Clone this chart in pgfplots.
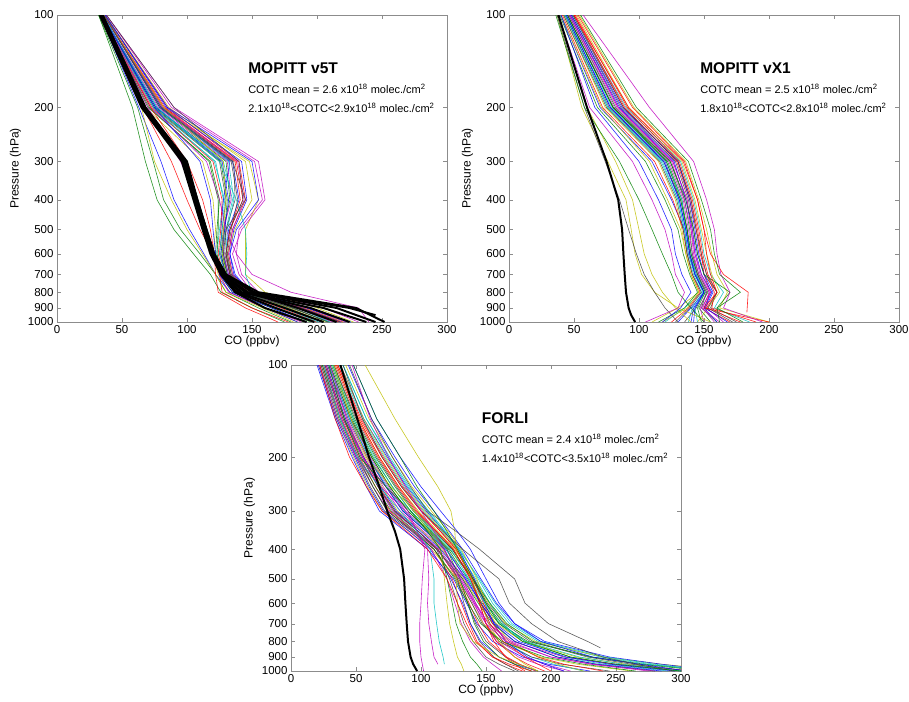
\documentclass[border=0pt]{standalone}
\usepackage{fontspec}
\setmainfont{Liberation Sans}
\usepackage{pgfplots}
\pgfplotsset{compat=1.18}
\definecolor{cB}{rgb}{0,0,1}
\definecolor{cG}{rgb}{0,0.5,0}
\definecolor{cR}{rgb}{1,0,0}
\definecolor{cC}{rgb}{0,0.75,0.75}
\definecolor{cM}{rgb}{0.75,0,0.75}
\definecolor{cY}{rgb}{0.75,0.75,0}
\definecolor{cK}{rgb}{0.25,0.25,0.25}
\tikzset{thinln/.style={line width=0.6pt, opacity=0.85}, blkln/.style={black, line width=2pt},
  ttlstyle/.style={anchor=west, inner sep=0pt, font=\bfseries\fontsize{15.5}{16}\selectfont},
  annstyle/.style={anchor=west, inner sep=0pt, font=\fontsize{11}{12}\selectfont}}
\pgfplotsset{
  coaxis/.style={
    scale only axis, width=390pt, height=307pt,
    xmin=0, xmax=300, y dir=reverse, ymin=100, ymax=1000,
    xtick={0,50,100,150,200,250,300}, xticklabels={0,50,100,150,200,250,300},
    ytick={100,200,300,400,500,600,700,800,900,1000},
    yticklabels={100,200,300,400,500,600,700,800,900,1000},
    tick label style={font=\fontsize{11.5}{12}\selectfont},
    xlabel style={font=\fontsize{12}{13}\selectfont, yshift=5pt},
    ylabel style={font=\fontsize{12}{13}\selectfont},
    xlabel={CO (ppbv)}, ylabel={Pressure (hPa)},
    axis line style={black!45}, tick style={black!45}, major tick length=4pt,
    cycle list={{cB,thinln},{cG,thinln},{cR,thinln},{cC,thinln},{cM,thinln},{cY,thinln},{cK,thinln}},
  },
}
\begin{document}
\begin{tikzpicture}
\useasboundingbox (0,0) rectangle (909pt,-701pt);
% ---------------- Panel 1: MOPITT v5T
\begin{semilogyaxis}[coaxis, at={(57pt,-322pt)}, anchor=south west]
\addplot coordinates {(36,100)(80,200)(135,300)(140,400)(132,500)(130,600)(133,700)(145,800)(185,900)(215,1000)};
\addplot coordinates {(35,100)(76,200)(130,300)(133,400)(128,500)(126,600)(130,700)(140,800)(178,900)(205,1000)};
\addplot coordinates {(37,100)(85,200)(140,300)(145,400)(135,500)(132,600)(135,700)(150,800)(195,900)(225,1000)};
\addplot coordinates {(34,100)(72,200)(122,300)(128,400)(125,500)(123,600)(127,700)(138,800)(170,900)(198,1000)};
\addplot coordinates {(38,100)(88,200)(152,300)(158,400)(140,500)(138,600)(142,700)(155,800)(205,900)(232,1000)};
\addplot coordinates {(36,100)(82,200)(148,300)(155,400)(145,500)(145,600)(145,700)(160,800)(200,900)(228,1000)};
\addplot coordinates {(35,100)(74,200)(125,300)(130,400)(127,500)(125,600)(130,700)(142,800)(180,900)(210,1000)};
\addplot coordinates {(37,100)(79,200)(133,300)(128,400)(126,500)(128,600)(132,700)(145,800)(188,900)(218,1000)};
\addplot coordinates {(34,100)(70,200)(118,300)(125,400)(123,500)(122,600)(125,700)(135,800)(165,900)(190,1000)};
\addplot coordinates {(36,100)(83,200)(138,300)(143,400)(133,500)(130,600)(134,700)(147,800)(190,900)(220,1000)};
\addplot coordinates {(35,100)(77,200)(128,300)(135,400)(130,500)(127,600)(131,700)(141,800)(176,900)(203,1000)};
\addplot coordinates {(38,100)(90,200)(155,300)(160,400)(142,500)(135,600)(140,700)(150,800)(192,900)(222,1000)};
\addplot coordinates {(33,100)(68,200)(112,300)(120,400)(122,500)(120,600)(124,700)(133,800)(160,900)(185,1000)};
\addplot coordinates {(36,100)(81,200)(136,300)(137,400)(130,500)(129,600)(133,700)(146,800)(186,900)(214,1000)};
\addplot coordinates {(37,100)(84,200)(142,300)(146,400)(136,500)(133,600)(136,700)(148,800)(192,900)(224,1000)};
\addplot coordinates {(35,100)(75,200)(126,300)(131,400)(129,500)(127,600)(131,700)(143,800)(182,900)(208,1000)};
\addplot coordinates {(34,100)(73,200)(120,300)(127,400)(126,500)(124,600)(128,700)(139,800)(172,900)(200,1000)};
\addplot coordinates {(36,100)(80,200)(132,300)(136,400)(131,500)(130,600)(134,700)(150,800)(195,900)(226,1000)};
\addplot coordinates {(35,100)(78,200)(131,300)(134,400)(128,500)(128,600)(132,700)(144,800)(184,900)(212,1000)};
\addplot coordinates {(37,100)(86,200)(145,300)(150,400)(137,500)(131,600)(135,700)(148,800)(190,900)(220,1000)};
\addplot coordinates {(36,100)(79,200)(134,300)(139,400)(134,500)(131,600)(134,700)(146,800)(186,900)(216,1000)};
\addplot coordinates {(35,100)(76,200)(127,300)(132,400)(129,500)(126,600)(130,700)(141,800)(177,900)(204,1000)};
\addplot coordinates {(33,100)(71,200)(117,300)(124,400)(124,500)(123,600)(127,700)(137,800)(168,900)(195,1000)};
\addplot coordinates {(36,100)(82,200)(137,300)(141,400)(133,500)(130,600)(133,700)(145,800)(187,900)(217,1000)};
\addplot coordinates {(34,100)(74,200)(121,300)(129,400)(127,500)(125,600)(129,700)(140,800)(174,900)(201,1000)};
\addplot coordinates {(36,100)(81,200)(139,300)(144,400)(135,500)(132,600)(135,700)(147,800)(189,900)(219,1000)};
\addplot coordinates {(36,100)(82,200)(128,300)(130,400)(128,500)(127,600)(130,700)(140,800)(178,900)(206,1000)};
\addplot coordinates {(36,100)(80,200)(135,300)(145,400)(130,500)(128,600)(131,700)(143,800)(181,900)(209,1000)};
\addplot coordinates {(37,100)(85,200)(150,300)(155,400)(138,500)(133,600)(137,700)(149,800)(193,900)(226,1000)};
\addplot[cM,thinln] coordinates {(35,100)(72,200)(115,300)(125,400)(130,500)(138,600)(150,700)(180,800)(232,900)(240,1000)};
\addplot[cG,thinln] coordinates {(32,100)(58,200)(68,300)(77,400)(90,500)(105,600)(118,700)(126,800)(150,900)(175,1000)};
\addplot[cG,thinln] coordinates {(32,100)(62,200)(74,300)(82,400)(95,500)(110,600)(122,700)(130,800)(155,900)(180,1000)};
\addplot[cB,thinln] coordinates {(33,100)(63,200)(80,300)(90,400)(102,500)(113,600)(122,700)(133,800)(160,900)(185,1000)};
\addplot[cY,thinln] coordinates {(33,100)(65,200)(75,300)(88,400)(100,500)(112,600)(122,700)(130,800)(158,900)(182,1000)};
\addplot[cR,thinln] coordinates {(34,100)(66,200)(88,300)(100,400)(110,500)(120,600)(125,700)(127,800)(150,900)(178,1000)};
\addplot[cM,thinln] coordinates {(34,100)(70,200)(95,300)(108,400)(115,500)(120,600)(125,700)(132,800)(160,900)(188,1000)};
\addplot[cR,thinln] coordinates {(33,100)(72,200)(100,300)(112,400)(118,500)(121,600)(122,700)(124,800)(145,900)(170,1000)};
\addplot[cB,thinln] coordinates {(35,100)(75,200)(110,300)(118,400)(120,500)(122,600)(125,700)(135,800)(165,900)(192,1000)};
\addplot[cK,thinln] coordinates {(38,100)(90,200)(140,300)(143,400)(133,500)(130,600)(133,700)(145,800)(188,900)(218,1000)};
\addplot[cC,thinln] coordinates {(35,100)(77,200)(125,300)(138,400)(145,500)(146,600)(145,700)(150,800)(185,900)(210,1000)};
\addplot[blkln] coordinates {(33,100)(65,200)(96,300)(105,400)(112,500)(118,600)(126,700)(137,800)(160,900)(192,1000)};
\addplot[blkln] coordinates {(34,100)(67,200)(98,300)(107,400)(114,500)(120,600)(128,700)(140,800)(175,900)(205,1000)};
\addplot[blkln] coordinates {(34,100)(66,200)(97,300)(106,400)(113,500)(119,600)(127,700)(142,800)(195,900)(225,1000)};
\addplot[blkln] coordinates {(35,100)(68,200)(99,300)(108,400)(115,500)(121,600)(130,700)(150,800)(215,900)(245,1000)};
\addplot[blkln] coordinates {(34,100)(67,200)(98,300)(107,400)(114,500)(120,600)(129,700)(152,800)(225,900)(245,950)};
\addplot[blkln] coordinates {(33,100)(66,200)(97,300)(106,400)(113,500)(119,600)(127,700)(145,800)(205,900)(238,1000)};
\addplot[blkln] coordinates {(34,100)(67,200)(98,300)(107,400)(114,500)(120,600)(128,700)(138,800)(168,900)(198,1000)};
\addplot[blkln] coordinates {(35,100)(68,200)(100,300)(108,400)(115,500)(121,600)(130,700)(155,800)(230,900)(252,1000)};
\addplot[blkln] coordinates {(34,100)(66,200)(97,300)(106,400)(113,500)(119,600)(128,700)(147,800)(185,900)(215,1000)};
\node[ttlstyle] at (axis description cs:0.49,0.827) {MOPITT v5T};
\node[annstyle] at (axis description cs:0.49,0.759) {COTC mean = 2.6 x10\textsuperscript{18} molec./cm\textsuperscript{2}};
\node[annstyle] at (axis description cs:0.49,0.697) {2.1x10\textsuperscript{18}<COTC<2.9x10\textsuperscript{18} molec./cm\textsuperscript{2}};
\end{semilogyaxis}
% ---------------- Panel 2: MOPITT vX1
\begin{semilogyaxis}[coaxis, at={(509pt,-322pt)}, anchor=south west]
\addplot coordinates {(40,100)(70,200)(110,300)(125,400)(135,500)(138,600)(143,700)(150,800)(140,900)(130,1000)};
\addplot coordinates {(45,100)(80,200)(122,300)(133,400)(137,500)(140,600)(145,700)(152,800)(148,900)(160,1000)};
\addplot coordinates {(50,100)(88,200)(130,300)(140,400)(145,500)(148,600)(150,700)(155,800)(150,900)(170,1000)};
\addplot coordinates {(43,100)(76,200)(118,300)(130,400)(135,500)(137,600)(142,700)(148,800)(135,900)(120,1000)};
\addplot coordinates {(47,100)(84,200)(126,300)(137,400)(140,500)(143,600)(147,700)(154,800)(152,900)(165,1000)};
\addplot coordinates {(42,100)(74,200)(115,300)(128,400)(133,500)(136,600)(140,700)(146,800)(130,900)(110,1000)};
\addplot coordinates {(48,100)(86,200)(128,300)(138,400)(142,500)(145,600)(150,700)(160,800)(155,900)(175,1000)};
\addplot coordinates {(44,100)(78,200)(120,300)(131,400)(136,500)(139,600)(144,700)(150,800)(142,900)(140,1000)};
\addplot coordinates {(46,100)(82,200)(124,300)(135,400)(139,500)(141,600)(146,700)(153,800)(146,900)(155,1000)};
\addplot coordinates {(41,100)(72,200)(112,300)(126,400)(134,500)(137,600)(141,700)(147,800)(138,900)(125,1000)};
\addplot coordinates {(49,100)(90,200)(132,300)(142,400)(147,500)(150,600)(155,700)(165,800)(158,900)(185,1000)};
\addplot coordinates {(45,100)(81,200)(123,300)(134,400)(138,500)(141,600)(145,700)(152,800)(147,900)(150,1000)};
\addplot coordinates {(52,100)(92,200)(133,300)(143,400)(148,500)(152,600)(156,700)(162,800)(153,900)(145,1000)};
\addplot coordinates {(43,100)(77,200)(119,300)(132,400)(137,500)(139,600)(143,700)(150,800)(144,900)(135,1000)};
\addplot coordinates {(47,100)(85,200)(127,300)(136,400)(141,500)(144,600)(148,700)(156,800)(150,900)(160,1000)};
\addplot coordinates {(39,100)(68,200)(105,300)(120,400)(130,500)(134,600)(139,700)(145,800)(135,900)(115,1000)};
\addplot coordinates {(50,100)(89,200)(129,300)(139,400)(144,500)(147,600)(152,700)(158,800)(156,900)(190,1000)};
\addplot coordinates {(44,100)(79,200)(121,300)(133,400)(136,500)(140,600)(144,700)(151,800)(143,900)(145,1000)};
\addplot coordinates {(46,100)(83,200)(125,300)(135,400)(140,500)(142,600)(146,700)(154,800)(149,900)(158,1000)};
\addplot coordinates {(54,100)(96,200)(136,300)(146,400)(152,500)(156,600)(160,700)(168,800)(162,900)(200,1000)};
\addplot coordinates {(42,100)(75,200)(116,300)(129,400)(134,500)(137,600)(141,700)(148,800)(139,900)(128,1000)};
\addplot coordinates {(48,100)(87,200)(130,300)(139,400)(143,500)(146,600)(150,700)(157,800)(151,900)(168,1000)};
\addplot coordinates {(45,100)(80,200)(121,300)(132,400)(137,500)(140,600)(145,700)(151,800)(145,900)(148,1000)};
\addplot coordinates {(51,100)(91,200)(131,300)(141,400)(146,500)(149,600)(153,700)(160,800)(152,900)(178,1000)};
\addplot coordinates {(43,100)(76,200)(117,300)(130,400)(135,500)(138,600)(143,700)(149,800)(141,900)(138,1000)};
\addplot coordinates {(47,100)(84,200)(126,300)(137,400)(141,500)(143,600)(148,700)(155,800)(148,900)(162,1000)};
\addplot coordinates {(40,100)(71,200)(108,300)(122,400)(132,500)(136,600)(140,700)(146,800)(137,900)(118,1000)};
\addplot coordinates {(49,100)(88,200)(130,300)(140,400)(144,500)(148,600)(152,700)(160,800)(153,900)(172,1000)};
\addplot coordinates {(44,100)(78,200)(119,300)(131,400)(136,500)(139,600)(143,700)(150,800)(143,900)(142,1000)};
\addplot coordinates {(45,100)(80,200)(124,300)(136,400)(142,500)(145,600)(150,700)(170,800)(160,900)(162,1000)};
\addplot coordinates {(50,100)(92,200)(134,300)(145,400)(150,500)(152,600)(155,700)(160,800)(150,900)(200,1000)};
\addplot[cM,thinln] coordinates {(57,100)(108,200)(142,300)(152,400)(158,500)(160,600)(163,700)(170,800)(165,900)(195,1000)};
\addplot[cR,thinln] coordinates {(53,100)(95,200)(135,300)(145,400)(150,500)(155,600)(165,700)(184,800)(183,930)};
\addplot[cG,thinln] coordinates {(55,100)(98,200)(138,300)(148,400)(155,500)(158,600)(162,700)(178,800)(160,900)(180,1000)};
\addplot[cY,thinln] coordinates {(37,100)(56,200)(76,300)(90,400)(94,500)(97,600)(102,700)(112,800)(130,900)(155,1000)};
\addplot[cY,thinln] coordinates {(38,100)(60,200)(82,300)(95,400)(100,500)(104,600)(110,700)(118,800)(128,900)(140,1000)};
\addplot[cK,thinln] coordinates {(37,100)(58,200)(74,300)(85,400)(92,500)(98,600)(104,700)(112,800)(120,900)(130,1000)};
\addplot[cG,thinln] coordinates {(36,100)(58,200)(85,300)(100,400)(110,500)(118,600)(125,700)(130,800)(140,900)(150,1000)};
\addplot[cM,thinln] coordinates {(38,100)(62,200)(95,300)(110,400)(120,500)(125,600)(128,700)(135,800)(130,900)(105,1000)};
\addplot[cB,thinln] coordinates {(40,100)(66,200)(100,300)(115,400)(125,500)(128,600)(133,700)(140,800)(132,900)(118,1000)};
\addplot[blkln] coordinates {(38,100)(60,200)(75,300)(84,400)(87,500)(88,600)(89,700)(90,800)(92,900)(94,950)(97,1000)};
\node[ttlstyle] at (axis description cs:0.49,0.827) {MOPITT vX1};
\node[annstyle] at (axis description cs:0.49,0.759) {COTC mean = 2.5 x10\textsuperscript{18} molec./cm\textsuperscript{2}};
\node[annstyle] at (axis description cs:0.49,0.697) {1.8x10\textsuperscript{18}<COTC<2.8x10\textsuperscript{18} molec./cm\textsuperscript{2}};
\end{semilogyaxis}
% ---------------- Panel 3: FORLI
\begin{semilogyaxis}[coaxis, height=306pt, at={(291pt,-671pt)}, anchor=south west]
\addplot coordinates {(20,100)(34,150)(47,200)(58,250)(68,300)(88,350)(105,400)(125,500)(135,600)(143,700)(155,800)(178,900)(198,950)(230,1000)};
\addplot coordinates {(31,100)(47,150)(62,200)(76,250)(90,300)(107,350)(121,400)(136,500)(147,600)(160,700)(182,800)(232,900)(272,950)(330,1000)};
\addplot coordinates {(24,100)(39,150)(53,200)(65,250)(76,300)(95,350)(110,400)(124,500)(131,600)(137,700)(143,800)(155,900)(165,950)(178,1000)};
\addplot coordinates {(40,100)(58,150)(76,200)(91,250)(106,300)(119,350)(130,400)(144,500)(155,600)(168,700)(190,800)(238,900)(275,950)(320,1000)};
\addplot coordinates {(28,100)(43,150)(58,200)(71,250)(84,300)(102,350)(117,400)(132,500)(141,600)(148,700)(158,800)(175,900)(190,950)(210,1000)};
\addplot coordinates {(35,100)(52,150)(68,200)(83,250)(98,300)(113,350)(126,400)(141,500)(152,600)(165,700)(188,800)(240,900)(285,950)(340,1000)};
\addplot coordinates {(22,100)(36,150)(50,200)(61,250)(72,300)(93,350)(110,400)(127,500)(136,600)(142,700)(150,800)(165,900)(175,950)(190,1000)};
\addplot coordinates {(44,100)(62,150)(80,200)(95,250)(110,300)(122,350)(132,400)(146,500)(158,600)(172,700)(195,800)(245,900)(285,950)(330,1000)};
\addplot coordinates {(33,100)(49,150)(65,200)(80,250)(94,300)(110,350)(124,400)(139,500)(150,600)(162,700)(180,800)(215,900)(248,950)(300,1000)};
\addplot coordinates {(26,100)(41,150)(56,200)(68,250)(80,300)(98,350)(113,400)(128,500)(137,600)(144,700)(152,800)(166,900)(176,950)(188,1000)};
\addplot coordinates {(37,100)(55,150)(72,200)(87,250)(102,300)(116,350)(128,400)(142,500)(153,600)(163,700)(178,800)(210,900)(240,950)(290,1000)};
\addplot coordinates {(30,100)(46,150)(61,200)(75,250)(88,300)(106,350)(120,400)(134,500)(142,600)(150,700)(160,800)(180,900)(195,950)(215,1000)};
\addplot coordinates {(21,100)(35,150)(48,200)(59,250)(70,300)(91,350)(108,400)(128,500)(139,600)(148,700)(162,800)(192,900)(220,950)(262,1000)};
\addplot coordinates {(28,100)(44,150)(59,200)(73,250)(86,300)(104,350)(118,400)(128,500)(133,600)(138,700)(145,800)(156,900)(165,950)(175,1000)};
\addplot coordinates {(21,100)(35,150)(49,200)(60,250)(71,300)(91,350)(107,400)(123,500)(132,600)(138,700)(146,800)(160,900)(172,950)(190,1000)};
\addplot coordinates {(32,100)(48,150)(63,200)(78,250)(92,300)(108,350)(122,400)(140,500)(153,600)(166,700)(186,800)(230,900)(268,950)(320,1000)};
\addplot coordinates {(36,100)(54,150)(71,200)(86,250)(101,300)(115,350)(127,400)(139,500)(145,600)(150,700)(156,800)(165,900)(172,950)(180,1000)};
\addplot coordinates {(32,100)(48,150)(64,200)(78,250)(92,300)(109,350)(123,400)(137,500)(146,600)(153,700)(163,800)(185,900)(202,950)(225,1000)};
\addplot coordinates {(22,100)(36,150)(50,200)(63,250)(75,300)(93,350)(108,400)(120,500)(126,600)(131,700)(138,800)(148,900)(155,950)(162,1000)};
\addplot coordinates {(27,100)(42,150)(57,200)(70,250)(82,300)(101,350)(116,400)(133,500)(145,600)(158,700)(178,800)(220,900)(258,950)(310,1000)};
\addplot coordinates {(26,100)(41,150)(55,200)(67,250)(79,300)(98,350)(113,400)(129,500)(139,600)(147,700)(160,800)(185,900)(208,950)(245,1000)};
\addplot coordinates {(38,100)(56,150)(74,200)(89,250)(104,300)(118,350)(129,400)(141,500)(149,600)(156,700)(165,800)(182,900)(195,950)(210,1000)};
\addplot coordinates {(24,100)(38,150)(52,200)(65,250)(77,300)(96,350)(112,400)(132,500)(144,600)(155,700)(172,800)(205,900)(235,950)(280,1000)};
\addplot coordinates {(34,100)(51,150)(67,200)(82,250)(96,300)(112,350)(125,400)(138,500)(145,600)(150,700)(158,800)(172,900)(182,950)(195,1000)};
\addplot coordinates {(40,100)(58,150)(75,200)(90,250)(105,300)(118,350)(129,400)(145,500)(157,600)(170,700)(192,800)(242,900)(280,950)(325,1000)};
\addplot coordinates {(23,100)(38,150)(52,200)(63,250)(74,300)(95,350)(112,400)(130,500)(141,600)(152,700)(170,800)(210,900)(250,950)(310,1000)};
\addplot coordinates {(42,100)(60,150)(78,200)(93,250)(108,300)(121,350)(131,400)(143,500)(150,600)(157,700)(168,800)(190,900)(205,950)(225,1000)};
\addplot coordinates {(33,100)(50,150)(66,200)(81,250)(95,300)(111,350)(124,400)(140,500)(151,600)(164,700)(184,800)(228,900)(262,950)(305,1000)};
\addplot coordinates {(29,100)(45,150)(60,200)(73,250)(86,300)(104,350)(119,400)(135,500)(146,600)(156,700)(172,800)(205,900)(235,950)(285,1000)};
\addplot coordinates {(30,100)(46,150)(62,200)(76,250)(90,300)(106,350)(120,400)(130,500)(136,600)(141,700)(148,800)(160,900)(172,950)(185,1000)};
\addplot coordinates {(36,100)(53,150)(70,200)(85,250)(100,300)(115,350)(127,400)(140,500)(148,600)(155,700)(166,800)(190,900)(210,950)(240,1000)};
\addplot coordinates {(29,100)(45,150)(60,200)(74,250)(87,300)(105,350)(119,400)(137,500)(149,600)(161,700)(180,800)(222,900)(255,950)(300,1000)};
\addplot coordinates {(25,100)(40,150)(55,200)(67,250)(78,300)(98,350)(114,400)(131,500)(142,600)(152,700)(168,800)(200,900)(232,950)(280,1000)};
\addplot coordinates {(38,100)(56,150)(73,200)(88,250)(103,300)(117,350)(128,400)(139,500)(146,600)(152,700)(160,800)(172,900)(180,950)(190,1000)};
\addplot coordinates {(25,100)(40,150)(54,200)(67,250)(80,300)(98,350)(112,400)(122,500)(128,600)(133,700)(140,800)(150,900)(160,950)(172,1000)};
\addplot coordinates {(27,100)(42,150)(56,200)(69,250)(81,300)(100,350)(115,400)(134,500)(146,600)(157,700)(175,800)(212,900)(245,950)(295,1000)};
\addplot coordinates {(23,100)(37,150)(51,200)(63,250)(74,300)(94,350)(110,400)(126,500)(136,600)(146,700)(162,800)(195,900)(225,950)(265,1000)};
\addplot coordinates {(35,100)(52,150)(68,200)(83,250)(97,300)(112,350)(125,400)(138,500)(146,600)(153,700)(163,800)(180,900)(190,950)(200,1000)};
\addplot[cY,thinln] coordinates {(57,100)(80,150)(98,200)(113,250)(123,300)(126,350)(127,400)(127,500)(128,600)(130,700)(140,800)(160,900)(175,950)(190,1000)};
\addplot[cB,thinln] coordinates {(48,100)(66,150)(84,200)(100,250)(115,300)(128,350)(138,400)(150,500)(160,600)(172,700)(192,800)(232,900)(268,950)(305,1000)};
\addplot[cK,thinln] coordinates {(45,100)(62,150)(78,200)(92,250)(105,300)(127,350)(145,400)(172,500)(180,600)(198,700)(228,800)(238,840)};
\addplot[cK,thinln] coordinates {(40,100)(55,150)(70,200)(85,250)(100,300)(117,350)(132,400)(160,500)(168,600)(185,700)(205,800)(240,900)(265,950)(295,1000)};
\addplot[cG,thinln] coordinates {(48,100)(66,150)(84,200)(97,250)(110,300)(120,350)(128,400)(140,500)(150,600)(160,700)(178,800)(215,900)(250,950)(300,1000)};
\addplot[cM,thinln] coordinates {(47,100)(61,150)(75,200)(88,250)(100,300)(110,350)(118,400)(130,500)(140,600)(150,700)(165,800)(200,900)(230,950)(275,1000)};
\addplot[cM,thinln] coordinates {(30,100)(43,150)(55,200)(73,250)(90,300)(97,350)(103,400)(101,500)(100,600)(99,700)(99,800)(100,900)(101,950)(102,1000)};
\addplot[cM,thinln] coordinates {(27,100)(39,150)(50,200)(69,250)(88,300)(97,350)(105,400)(106,500)(105,600)(106,700)(108,800)(110,900)(113,950)};
\addplot[cC,thinln] coordinates {(25,100)(38,150)(51,200)(68,250)(84,300)(97,350)(107,400)(110,500)(110,600)(112,700)(114,800)(117,900)(118,950)};
\addplot[cY,thinln] coordinates {(33,100)(46,150)(58,200)(77,250)(95,300)(106,350)(115,400)(118,500)(120,600)(122,700)(125,800)(128,900)(131,950)(133,1000)};
\addplot[cG,thinln] coordinates {(29,100)(41,150)(53,200)(73,250)(92,300)(105,350)(115,400)(120,500)(124,600)(127,700)(132,800)(138,900)(143,950)(147,1000)};
\addplot[cR,thinln] coordinates {(22,100)(34,150)(45,200)(58,250)(70,300)(89,350)(105,400)(120,500)(128,600)(135,700)(142,800)(155,900)(168,950)(185,1000)};
\addplot[blkln] coordinates {(38,100)(51,150)(60,200)(68,250)(74,300)(80,350)(84,400)(87,500)(88,600)(89,700)(90,800)(92,900)(94,950)(97,1000)};
\node[ttlstyle] at (axis description cs:0.489,0.826) {FORLI};
\node[annstyle] at (axis description cs:0.489,0.76) {COTC mean = 2.4 x10\textsuperscript{18} molec./cm\textsuperscript{2}};
\node[annstyle] at (axis description cs:0.489,0.698) {1.4x10\textsuperscript{18}<COTC<3.5x10\textsuperscript{18} molec./cm\textsuperscript{2}};
\end{semilogyaxis}
\end{tikzpicture}
\end{document}
